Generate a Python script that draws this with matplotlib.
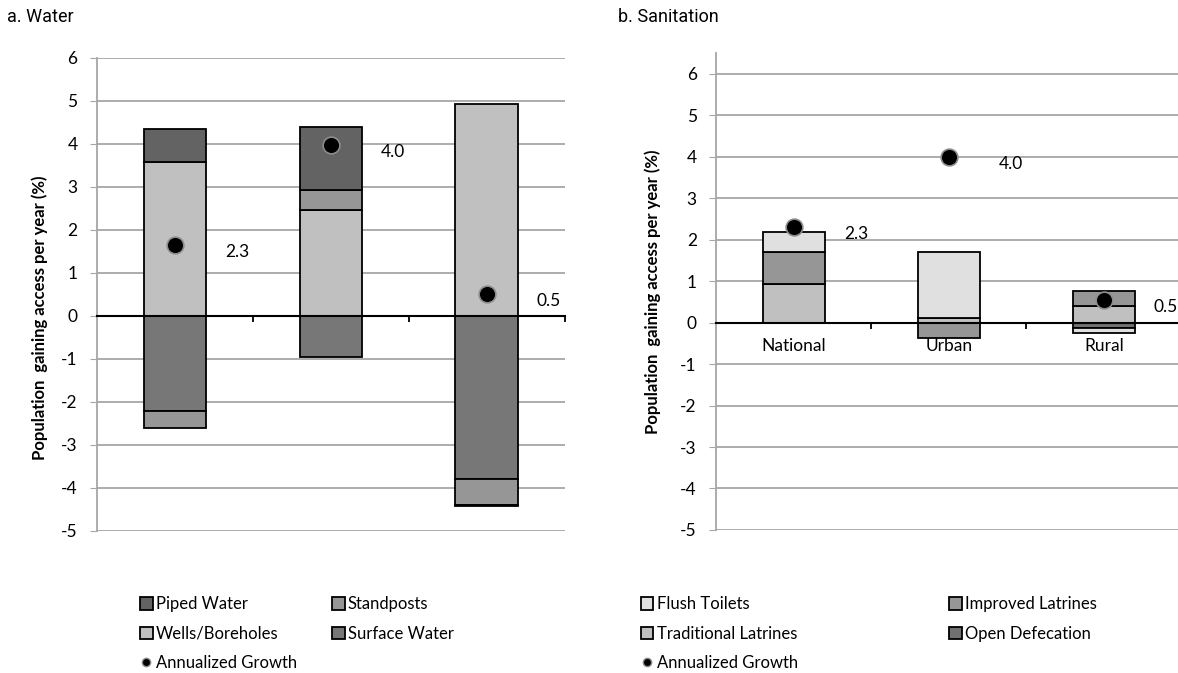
import matplotlib
matplotlib.use("Agg")
import matplotlib.pyplot as plt
import numpy as np
from matplotlib.patches import Patch
from matplotlib.lines import Line2D

plt.rcParams['font.family'] = ['Lato', 'DejaVu Sans']
plt.rcParams['axes.unicode_minus'] = False

categories = ["National", "Urban", "Rural"]

# water: series listed in Excel stacking order
water_series = ["Wells/Boreholes", "Surface Water", "Standposts", "Piped Water"]
wells = [3.57, 2.47, 4.92]
surface = [-2.22, -0.96, -3.80]
standposts = [-0.38, 0.46, -0.60]
piped = [0.78, 1.47, -0.03]
water_growth = [1.65, 3.98, 0.51]
water_growth_labels = ["2.3", "4.0", "0.5"]

# sanitation
san_series = ["Traditional Latrines", "Open Defecation", "Improved Latrines", "Flush Toilets"]
traditional = [0.92, 0.10, 0.41]
open_def = [-0.02, 0.0, -0.14]
improved = [0.79, -0.38, 0.34]
flush = [0.47, 1.60, -0.12]
san_growth = [2.31, 4.0, 0.54]
san_growth_labels = ["2.3", "4.0", "0.5"]

water_colors = {"Piped Water": "#636363", "Standposts": "#969696",
                "Wells/Boreholes": "#c0c0c0", "Surface Water": "#777777"}
san_colors = {"Flush Toilets": "#e0e0e0", "Improved Latrines": "#969696",
              "Traditional Latrines": "#c0c0c0", "Open Defecation": "#717171"}

GRID = "#a6a6a6"
TITLE_FONT = ['Liberation Sans Narrow', 'Roboto', 'DejaVu Sans']


def stacked(ax, names, values, colors):
    x = np.arange(len(categories))
    pos = np.zeros(len(categories))
    neg = np.zeros(len(categories))
    for name, vals in zip(names, values):
        vals = np.array(vals, dtype=float)
        bottom = np.where(vals >= 0, pos, neg)
        ax.bar(x, vals, 0.4, bottom=bottom, color=colors[name],
               edgecolor="black", linewidth=1.3, zorder=2)
        pos = pos + np.clip(vals, 0, None)
        neg = neg + np.clip(vals, None, 0)


def style_axes(ax, ytop, label_x, label_y):
    ax.set_xlim(-0.5, 2.5)
    ax.set_ylim(-5, ytop)
    ax.set_yticks(range(-5, 7))
    ax.tick_params(axis="y", direction="out", length=5, color=GRID,
                   labelsize=12.5, pad=9)
    for y in range(-5, 7):
        if y != 0:
            ax.axhline(y, color=GRID, lw=1.3, zorder=0)
    for s in ["top", "right"]:
        ax.spines[s].set_visible(False)
    ax.spines["left"].set_color(GRID)
    ax.spines["left"].set_linewidth(1.3)
    ax.spines["bottom"].set_position(("data", 0))
    ax.spines["bottom"].set_color("black")
    ax.spines["bottom"].set_linewidth(1.5)
    ax.spines["bottom"].set_zorder(3)
    ax.set_xticks([0.5, 1.5, 2.5])
    ax.set_xticklabels([])
    ax.tick_params(axis="x", which="major", direction="out", length=4,
                   width=1.3, color="black")
    ax.set_xticks([0, 1, 2], categories, minor=True)
    ax.tick_params(axis="x", which="minor", length=0, labelsize=12.5, pad=11)
    for lab in ax.get_xticklabels(minor=True):
        lab.set_zorder(5)
    ax.set_ylabel("Population  gaining access per year (%)", fontsize=12,
                  fontweight="bold")
    ax.yaxis.set_label_coords(label_x, label_y)


def growth(ax, vals, labels):
    x = np.arange(len(categories))
    ax.scatter(x, vals, s=145, color="black", edgecolor="#8c8c8c",
               linewidth=1.2, zorder=4)
    for xi, v, lab in zip(x, vals, labels):
        ax.annotate(lab, (xi, v), xytext=(36, -5), textcoords="offset points",
                    ha="left", va="center", fontsize=12.5)


fig = plt.figure(figsize=(11.78, 6.73), dpi=100)
ax1 = fig.add_axes([0.0823, 0.211, 0.397, 0.703])
ax2 = fig.add_axes([0.608, 0.2125, 0.395, 0.709])

stacked(ax1, water_series, [wells, surface, standposts, piped], water_colors)
style_axes(ax1, 6, -0.104, 0.45)
growth(ax1, water_growth, water_growth_labels)

stacked(ax2, san_series, [traditional, open_def, improved, flush], san_colors)
style_axes(ax2, 6.5, -0.118, 0.5)
growth(ax2, san_growth, san_growth_labels)

fig.text(0.006, 0.975, "a. Water", fontsize=13, family=TITLE_FONT, va="center")
fig.text(0.525, 0.975, "b. Sanitation", fontsize=13, family=TITLE_FONT, va="center")


def sq(c):
    return Patch(facecolor=c, edgecolor="black", linewidth=1.3)


dot = Line2D([], [], marker="o", color="black", markersize=6, linestyle="none",
             markeredgecolor="#8c8c8c")

h1 = [sq(water_colors["Piped Water"]), sq(water_colors["Wells/Boreholes"]), dot,
      sq(water_colors["Standposts"]), sq(water_colors["Surface Water"])]
l1 = ["Piped Water", "Wells/Boreholes", "Annualized Growth", "Standposts", "Surface Water"]
fig.legend(h1, l1, ncol=2, loc="upper left", bbox_to_anchor=(0.119, 0.114),
           frameon=False, fontsize=12, handlelength=0.75, handleheight=0.75,
           handletextpad=0.2, labelspacing=0.8, columnspacing=2.1,
           borderpad=0, borderaxespad=0)

h2 = [sq(san_colors["Flush Toilets"]), sq(san_colors["Traditional Latrines"]), dot,
      sq(san_colors["Improved Latrines"]), sq(san_colors["Open Defecation"])]
l2 = ["Flush Toilets", "Traditional Latrines", "Annualized Growth",
      "Improved Latrines", "Open Defecation"]
fig.legend(h2, l2, ncol=2, loc="upper left", bbox_to_anchor=(0.544, 0.114),
           frameon=False, fontsize=12, handlelength=0.75, handleheight=0.75,
           handletextpad=0.2, labelspacing=0.8, columnspacing=9.1,
           borderpad=0, borderaxespad=0)

fig.savefig("out.png", dpi=100)
